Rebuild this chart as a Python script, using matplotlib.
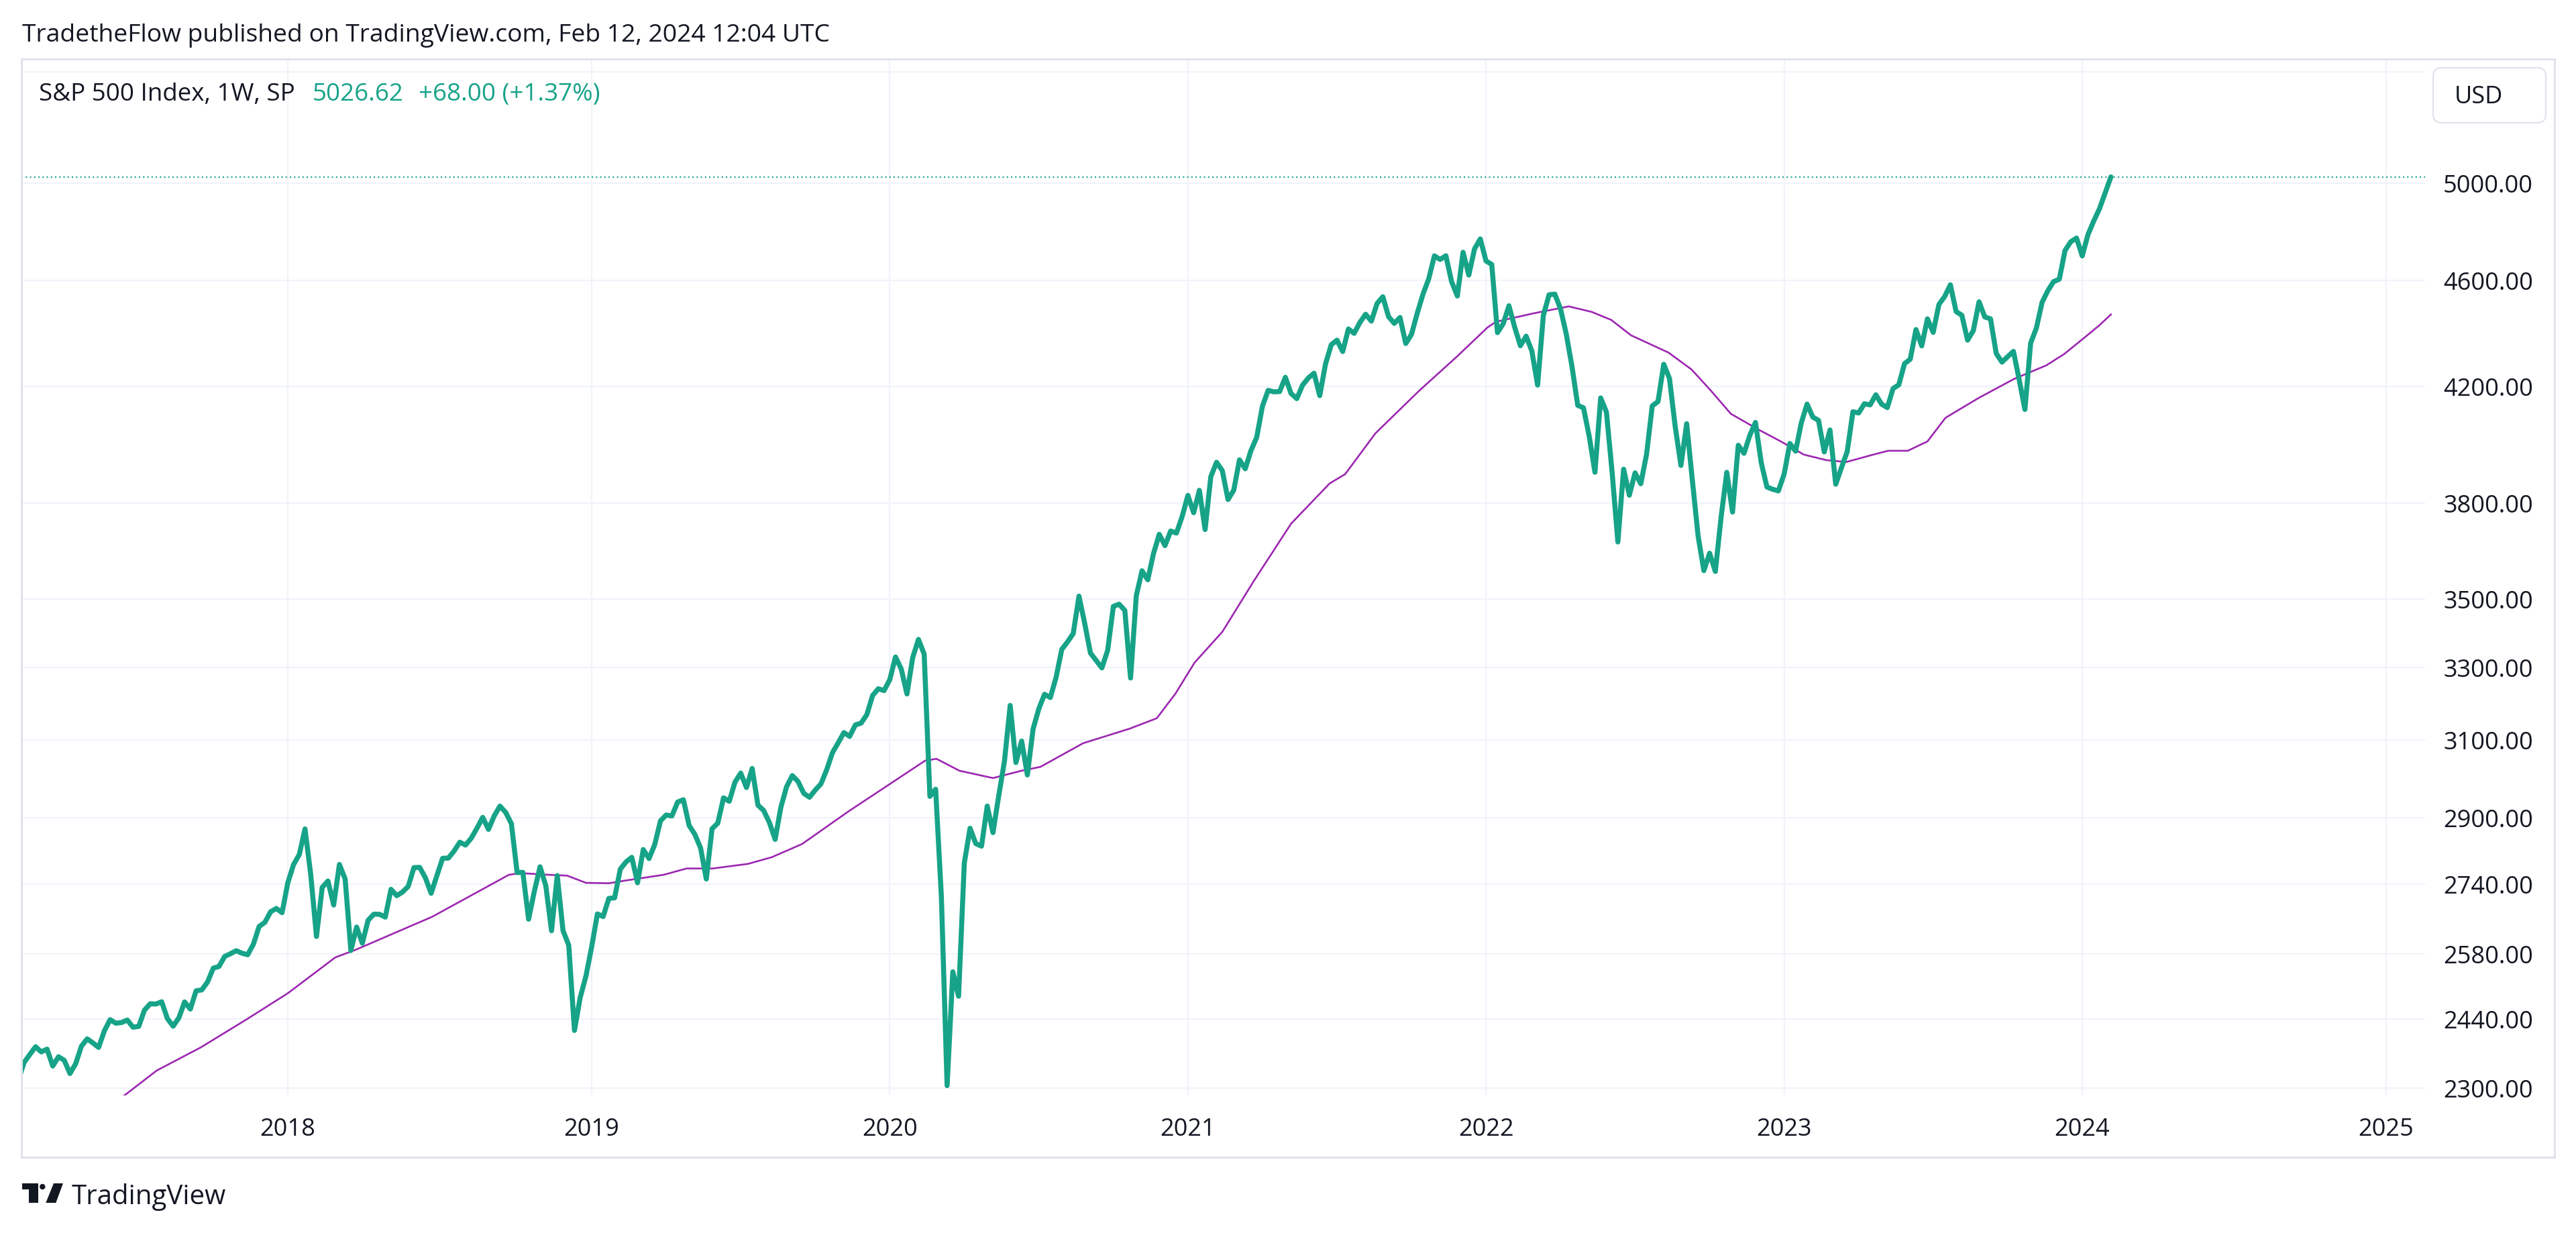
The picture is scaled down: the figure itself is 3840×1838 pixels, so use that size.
import datetime as dt
import numpy as np
import pandas as pd
import matplotlib
matplotlib.use("Agg")
import matplotlib.pyplot as plt
import matplotlib.dates as mdates
from matplotlib.patches import Rectangle, FancyBboxPatch, Polygon, Circle
from matplotlib.transforms import IdentityTransform, blended_transform_factory, ScaledTranslation

# ---------------- data (weekly closes, S&P 500, 1W bars dated Monday) ----------------
close_2017 = [2316.10, 2351.16, 2367.34, 2383.12, 2372.60, 2378.25, 2343.98, 2362.72, 2355.54, 2328.95,
              2348.69, 2384.20, 2399.29, 2390.90, 2381.73, 2415.82, 2439.07, 2431.77, 2433.15, 2438.30,
              2423.41, 2425.18, 2459.27, 2472.54, 2472.10, 2476.83, 2441.32, 2425.55, 2443.05, 2476.55,
              2461.43, 2500.23, 2502.22, 2519.36, 2549.33, 2553.17, 2575.21, 2581.07, 2587.84, 2582.30,
              2578.85, 2602.42, 2642.22, 2651.50, 2675.81, 2683.34, 2673.61]
close_2018 = [2743.15, 2786.24, 2810.30, 2872.87, 2762.13, 2619.55, 2732.22, 2747.30, 2691.25, 2786.57,
              2752.01, 2588.26, 2640.87, 2604.47, 2656.30, 2670.14, 2669.91, 2663.42, 2727.72, 2712.97,
              2721.33, 2734.62, 2779.03, 2779.66, 2754.88, 2718.37, 2759.82, 2801.31, 2801.83, 2818.82,
              2840.35, 2833.28, 2850.13, 2874.69, 2901.52, 2871.68, 2904.98, 2929.67, 2913.98, 2885.57,
              2767.13, 2767.78, 2658.69, 2723.06, 2781.01, 2736.27, 2632.56, 2760.17, 2633.08, 2599.95,
              2416.62, 2485.74]
close_2019 = [2531.94, 2596.26, 2670.71, 2664.76, 2706.53, 2707.88, 2775.60, 2792.67, 2803.69, 2743.07,
              2822.48, 2800.71, 2834.40, 2892.74, 2907.41, 2905.03, 2939.88, 2945.64, 2881.40, 2859.53,
              2826.06, 2752.06, 2873.34, 2886.98, 2950.46, 2941.76, 2990.41, 3013.77, 2976.61, 3025.86,
              2932.05, 2918.65, 2888.68, 2847.11, 2926.46, 2978.71, 3007.39, 2992.07, 2961.79, 2952.01,
              2970.27, 2986.20, 3022.55, 3066.91, 3093.08, 3120.46, 3110.29, 3140.98, 3145.91, 3168.80,
              3221.22, 3240.02]
close_2020 = [3234.85, 3265.35, 3329.62, 3295.47, 3225.52, 3327.71, 3380.16, 3337.75, 2954.22, 2972.37,
              2711.02, 2304.92, 2541.47, 2488.65, 2789.82, 2874.56, 2836.74, 2830.71, 2929.80, 2863.70,
              2955.45, 3044.31, 3193.93, 3041.31, 3097.74, 3009.05, 3130.01, 3185.04, 3224.73, 3215.63,
              3271.12, 3351.28, 3372.85, 3397.16, 3508.01, 3426.96, 3340.97, 3319.47, 3298.46, 3348.44,
              3477.14, 3483.81, 3465.39, 3269.96, 3509.44, 3585.15, 3557.54, 3638.35, 3699.12, 3663.46,
              3709.41, 3703.06, 3756.07]
close_2021 = [3824.68, 3768.25, 3841.47, 3714.24, 3886.83, 3934.83, 3906.71, 3811.15, 3841.94, 3943.34,
              3913.10, 3974.54, 4019.87, 4128.80, 4185.47, 4180.17, 4181.17, 4232.60, 4173.85, 4155.86,
              4204.11, 4229.89, 4247.44, 4166.45, 4280.70, 4352.34, 4369.55, 4327.16, 4411.79, 4395.26,
              4436.52, 4468.00, 4441.67, 4509.37, 4535.43, 4458.58, 4432.99, 4455.48, 4357.04, 4391.34,
              4471.37, 4544.90, 4605.38, 4697.53, 4682.85, 4697.96, 4594.62, 4538.43, 4712.02, 4620.64,
              4725.79, 4766.18]
close_2022 = [4677.03, 4662.85, 4397.94, 4431.85, 4500.53, 4418.64, 4348.87, 4384.65, 4328.87, 4204.31,
              4463.12, 4543.06, 4545.86, 4488.28, 4392.59, 4271.78, 4131.93, 4123.34, 4023.89, 3901.36,
              4158.24, 4108.54, 3900.86, 3674.84, 3911.74, 3825.33, 3899.38, 3863.16, 3961.63, 4130.29,
              4145.19, 4280.15, 4228.48, 4057.66, 3924.26, 4067.36, 3873.33, 3693.23, 3585.62, 3639.66,
              3583.07, 3752.75, 3901.06, 3770.55, 3992.93, 3965.34, 4026.12, 4071.70, 3934.38, 3852.36,
              3844.82, 3839.50]
close_2023 = [3895.08, 3999.09, 3972.61, 4070.56, 4136.48, 4090.46, 4079.09, 3970.04, 4045.64, 3861.59,
              3916.64, 3970.99, 4109.31, 4105.02, 4137.64, 4133.52, 4169.48, 4136.25, 4124.08, 4191.98,
              4205.45, 4282.37, 4298.86, 4409.59, 4348.33, 4450.38, 4398.95, 4505.42, 4536.34, 4582.23,
              4478.03, 4464.05, 4369.71, 4405.71, 4515.77, 4457.49, 4450.32, 4320.06, 4288.05, 4308.50,
              4327.78, 4224.16, 4117.37, 4358.34, 4415.24, 4514.02, 4559.34, 4594.63, 4604.37, 4719.19,
              4754.63, 4769.83]
close_2024 = [4697.24, 4783.83, 4839.81, 4890.97, 4958.62, 5026.62]
first_bar = "2017-02-06"

# moving-average line (purple)
ma_dates = ["2017-06-01", "2017-06-15", "2017-07-25", "2017-09-17", "2017-11-11", "2018-01-01",
            "2018-02-28", "2018-03-25", "2018-06-26", "2018-09-28", "2018-10-12", "2018-11-15",
            "2018-12-08", "2018-12-31", "2019-01-28", "2019-02-16", "2019-04-05", "2019-05-03",
            "2019-06-04", "2019-07-17", "2019-08-15", "2019-09-21", "2019-11-17", "2020-01-02",
            "2020-02-18", "2020-03-03", "2020-03-31", "2020-05-11", "2020-06-15", "2020-07-08",
            "2020-08-29", "2020-10-25", "2020-11-27", "2020-12-20", "2021-01-12", "2021-02-15",
            "2021-03-25", "2021-05-10", "2021-06-26", "2021-07-15", "2021-08-21", "2021-10-13",
            "2021-11-29", "2022-01-05", "2022-01-15", "2022-03-03", "2022-04-14", "2022-05-12",
            "2022-06-05", "2022-06-29", "2022-08-14", "2022-09-11", "2022-10-05", "2022-10-29",
            "2022-12-01", "2022-12-29", "2023-01-26", "2023-02-23", "2023-03-19", "2023-04-21",
            "2023-05-09", "2023-06-02", "2023-06-26", "2023-07-18", "2023-08-28", "2023-10-10",
            "2023-11-18", "2023-12-10", "2024-01-04", "2024-01-22", "2024-02-05"]
ma_values = [2268, 2285, 2335, 2382, 2439, 2495,
             2573, 2590, 2664, 2762, 2766, 2762,
             2760, 2743, 2742, 2748, 2762, 2777,
             2777, 2788, 2804, 2836, 2917, 2980,
             3046, 3051, 3020, 3001, 3020, 3030,
             3092, 3131, 3159, 3227, 3313, 3402,
             3552, 3733, 3864, 3895, 4034, 4183,
             4310, 4418, 4439, 4472, 4498, 4477,
             4446, 4388, 4323, 4261, 4183, 4102,
             4048, 4006, 3961, 3942, 3936, 3961,
             3974, 3974, 4006, 4088, 4159, 4227,
             4276, 4318, 4380, 4426, 4467]

price_ticks = [2300, 2440, 2580, 2740, 2900, 3100, 3300, 3500, 3800, 4200, 4600, 5000]
extra_grid = [5500]
year_labels = ["2018", "2019", "2020", "2021", "2022", "2023", "2024", "2025"]
year_tick_dates = ["2018-01-01", "2019-01-07", "2020-01-06", "2021-01-04", "2022-01-03",
                   "2023-01-02", "2024-01-01", "2025-01-06"]

title_text = "TradetheFlow published on TradingView.com, Feb 12, 2024 12:04 UTC"
legend_name = "S&P 500 Index, 1W, SP"

# ---------------- styling ----------------
plt.rcParams["font.family"] = ["Open Sans", "DejaVu Sans"]
TXT = "#131722"
GREEN = "#17a388"
PURPLE = "#9c27b0"
GRID = "#f0f3fa"
BORDER = "#e0e3eb"
FS = 26
FS_TITLE = 26.8
FS_LEGEND = 26.5

W, H, DPI = 3840, 1838, 100
fig = plt.figure(figsize=(W / DPI, H / DPI), dpi=DPI)
fig.patch.set_facecolor("white")


def fx(x):
    return x / W


def fy(y):
    return 1 - y / H


PL, PR, PT, PB = 32, 3615, 88, 1633
ax = fig.add_axes([fx(PL), fy(PB), fx(PR) - fx(PL), fy(PT) - fy(PB)])
ax.set_axis_off()
ax.set_yscale("log")
ax.set_ylim(2285.5, 5561.7)
ax.set_xlim(mdates.date2num(dt.datetime(2017, 2, 9, 19)),
            mdates.date2num(dt.datetime(2025, 2, 22, 14)))

close = np.array(close_2017 + close_2018 + close_2019 + close_2020 + close_2021
                 + close_2022 + close_2023 + close_2024)
dates = mdates.date2num(pd.date_range(first_bar, periods=len(close), freq="W-MON").to_pydatetime())
ma_x = mdates.date2num(pd.to_datetime(ma_dates).to_pydatetime())
tick_x = mdates.date2num(pd.to_datetime(year_tick_dates).to_pydatetime())

# grid
for v in price_ticks + extra_grid:
    ax.axhline(v, color=GRID, lw=1.6, zorder=0)
for d in tick_x:
    ax.axvline(d, color=GRID, lw=1.6, zorder=0)

# last price dotted line
ax.axhline(close[-1], color=GREEN, lw=1.5, ls=(0, (1, 2)), zorder=1)

# series
ax.plot(ma_x, ma_values, color=PURPLE, lw=1.9, zorder=2, solid_joinstyle="round")
ax.plot(dates, close, color=GREEN, lw=5.4, zorder=3, solid_joinstyle="round",
        solid_capstyle="round")

# price-axis labels
ytr = blended_transform_factory(fig.transFigure, ax.transData) + \
    ScaledTranslation(0, -14 / DPI, fig.dpi_scale_trans)
for v in price_ticks:
    fig.text(fx(3642), v, f"{v:.2f}", transform=ytr, ha="left", va="baseline",
             fontsize=FS, color=TXT)

# time-axis labels
xtr = blended_transform_factory(ax.transData, fig.transFigure)
for d, lab in zip(tick_x, year_labels):
    fig.text(d, fy(1693), lab, transform=xtr, ha="center", va="baseline",
             fontsize=FS, color=TXT)

# outer frame
idt = IdentityTransform()
fig.add_artist(Rectangle((32, H - 1725), 3808 - 32, 1725 - 88, transform=idt,
                         fill=False, ec=BORDER, lw=2.2))

# USD box
fig.add_artist(FancyBboxPatch((3627, H - 183), 3795 - 3627, 183 - 101,
                              boxstyle="round,pad=0,rounding_size=13", transform=idt,
                              fc="white", ec=BORDER, lw=1.6))
fig.text(fx(3659), fy(154), "USD", ha="left", va="baseline", fontsize=FS, color=TXT)

# title
fig.text(fx(33), fy(62), title_text, ha="left", va="baseline", fontsize=FS_TITLE, color=TXT)

# legend line
renderer = fig.canvas.get_renderer()
t1 = fig.text(fx(58), fy(150), legend_name, ha="left", va="baseline", fontsize=FS_LEGEND,
              color=TXT)
x_next = t1.get_window_extent(renderer).x1 + 26
chg = close[-1] - close[-2]
pct = chg / close[-2] * 100
t2 = fig.text(x_next / W, fy(150), f"{close[-1]:.2f}", ha="left", va="baseline",
              fontsize=FS_LEGEND, color=GREEN)
x_next = t2.get_window_extent(renderer).x1 + 22
fig.text(x_next / W, fy(150), f"{chg:+.2f} ({pct:+.2f}%)", ha="left", va="baseline",
         fontsize=FS_LEGEND, color=GREEN)

# TradingView logo + text
LOGO = "#131722"
fig.add_artist(Polygon([(32.7, H - 1764), (56.7, H - 1764), (56.7, H - 1793), (43.3, H - 1793),
                        (43.3, H - 1773), (32.7, H - 1773)], closed=True, transform=idt,
                       fc=LOGO, ec="none"))
fig.add_artist(Circle((63.3, H - 1769), 4.2, transform=idt, fc=LOGO, ec="none"))
fig.add_artist(Polygon([(80, H - 1764), (94, H - 1764), (83.3, H - 1793), (68.3, H - 1793)],
                       closed=True, transform=idt, fc=LOGO, ec="none"))
fig.text(fx(107), fy(1795), "TradingView", ha="left", va="baseline", fontsize=29, color=TXT)

fig.savefig("out.png", dpi=DPI, facecolor="white")
